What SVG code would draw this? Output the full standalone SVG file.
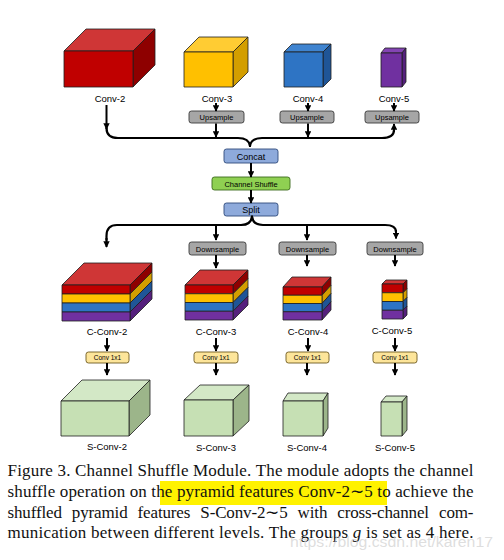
<svg xmlns="http://www.w3.org/2000/svg" width="504" height="560" viewBox="0 0 504 560">
<defs>
<marker id="ah" viewBox="0 0 10 10" refX="9" refY="5" markerWidth="3.2" markerHeight="3.2" orient="auto" markerUnits="strokeWidth">
<path d="M0,0 L10,5 L0,10 z" fill="#000"/>
</marker>
</defs>
<style>
.lbl{font-family:"Liberation Sans",Arial,sans-serif;font-size:9.5px;fill:#000;text-anchor:middle}
.bt{font-family:"Liberation Sans",Arial,sans-serif;text-anchor:middle;fill:#000}
.cube polygon,.cube rect{stroke:#1e1e1e;stroke-width:0.8;stroke-linejoin:round}
.gray{fill:#a6a6a6;stroke:#3a3a3a;stroke-width:0.9}
.blue{fill:#8eaadb;stroke:#2f4b7c;stroke-width:0.9}
.green{fill:#8fd052;stroke:#3d6b1d;stroke-width:0.9}
.yel{fill:#fde59a;stroke:#6e5a20;stroke-width:0.9}
.arr{fill:none;stroke:#000;stroke-width:2;marker-end:url(#ah)}
.br{fill:none;stroke:#000;stroke-width:2.2;stroke-linecap:round}
.cap{font-family:"Liberation Serif","Times New Roman",serif;font-size:17px;fill:#111}
.rf{fill:#c00000}.rt{fill:#cf3636}.rs{fill:#8e0000}
.yf{fill:#ffc000}.yt{fill:#ffcc33}.ys{fill:#d39e00}
.bf{fill:#2e74c4}.bt2{fill:#3f84d0}.bs{fill:#1f5597}
.pf{fill:#7030a0}.pt{fill:#8444b4}.ps{fill:#55207d}
.gf{fill:#c6e0b4}.gt{fill:#d3e8c6}.gs{fill:#9cb58a}
</style>

<!-- Top cubes -->
<g id="conv2" class="cube">
<polygon class="rt" points="64,51 86,29 155,29 133,51"/>
<polygon class="rs" points="133,51 155,29 155,65 133,87"/>
<rect class="rf" x="64" y="51" width="69" height="36"/>
<text class="lbl" x="110" y="102" stroke="none">Conv-2</text>
</g>
<g id="conv3" class="cube">
<polygon class="yt" points="184,52 199,37 248,37 233,52"/>
<polygon class="ys" points="233,52 248,37 248,72 233,87"/>
<rect class="yf" x="184" y="52" width="49" height="35"/>
<text class="lbl" x="217" y="102" stroke="none">Conv-3</text>
</g>
<g id="conv4" class="cube">
<polygon class="bt2" points="284,52 292,44 331,44 323,52"/>
<polygon class="bs" points="323,52 331,44 331,79 323,87"/>
<rect class="bf" x="284" y="52" width="39" height="35"/>
<text class="lbl" x="308" y="102" stroke="none">Conv-4</text>
</g>
<g id="conv5" class="cube">
<polygon class="pt" points="381,53 385,48 406,48 402,53"/>
<polygon class="ps" points="402,53 406,48 406,82 402,87"/>
<rect class="pf" x="381" y="53" width="21" height="34"/>
<text class="lbl" x="394" y="102" stroke="none">Conv-5</text>
</g>

<!-- Upsample boxes -->
<g id="up3"><rect class="gray" x="189" y="111" width="55" height="12" rx="2.5"/><text class="bt" x="216.5" y="120" font-size="7.5">Upsample</text></g>
<g id="up4"><rect class="gray" x="280" y="111" width="54" height="12" rx="2.5"/><text class="bt" x="307" y="120" font-size="7.5">Upsample</text></g>
<g id="up5"><rect class="gray" x="365" y="111" width="54" height="12" rx="2.5"/><text class="bt" x="392" y="120" font-size="7.5">Upsample</text></g>

<g id="concat"><rect class="blue" x="224" y="149" width="54" height="14" rx="2.5"/><text class="bt" x="251" y="159.5" font-size="9">Concat</text></g>
<g id="shuffle"><rect class="green" x="212" y="177" width="78" height="13" rx="2.5"/><text class="bt" x="251" y="186.5" font-size="7.5">Channel Shuffle</text></g>
<g id="split"><rect class="blue" x="224" y="203" width="54" height="13" rx="2.5"/><text class="bt" x="251" y="213" font-size="9">Split</text></g>

<g id="down3"><rect class="gray" x="189" y="242" width="57" height="13" rx="2.5"/><text class="bt" x="217.5" y="251.5" font-size="7.5">Downsample</text></g>
<g id="down4"><rect class="gray" x="279" y="242" width="57" height="13" rx="2.5"/><text class="bt" x="307.5" y="251.5" font-size="7.5">Downsample</text></g>
<g id="down5"><rect class="gray" x="367" y="242" width="56" height="13" rx="2.5"/><text class="bt" x="395" y="251.5" font-size="7.5">Downsample</text></g>

<!-- C-Conv stacked cubes -->
<g id="cconv2" class="cube">
<polygon class="rt" points="62,285 84,263 152,263 130,285"/>
<polygon class="rs" points="130,285 152,263 152,272 130,294"/>
<polygon class="ys" points="130,294 152,272 152,281 130,303"/>
<polygon class="bs" points="130,303 152,281 152,290 130,312"/>
<polygon class="ps" points="130,312 152,290 152,299 130,321"/>
<rect class="rf" x="62" y="285" width="68" height="9"/>
<rect class="yf" x="62" y="294" width="68" height="9"/>
<rect class="bf" x="62" y="303" width="68" height="9"/>
<rect class="pf" x="62" y="312" width="68" height="9"/>
<text class="lbl" x="107" y="335" stroke="none">C-Conv-2</text>
</g>
<g id="cconv3" class="cube">
<polygon class="rt" points="185,285 200,270 248,270 233,285"/>
<polygon class="rs" points="233,285 248,270 248,278.75 233,293.75"/>
<polygon class="ys" points="233,293.75 248,278.75 248,287.5 233,302.5"/>
<polygon class="bs" points="233,302.5 248,287.5 248,296.25 233,311.25"/>
<polygon class="ps" points="233,311.25 248,296.25 248,305 233,320"/>
<rect class="rf" x="185" y="285" width="48" height="8.75"/>
<rect class="yf" x="185" y="293.75" width="48" height="8.75"/>
<rect class="bf" x="185" y="302.5" width="48" height="8.75"/>
<rect class="pf" x="185" y="311.25" width="48" height="8.75"/>
<text class="lbl" x="216" y="335" stroke="none">C-Conv-3</text>
</g>
<g id="cconv4" class="cube">
<polygon class="rt" points="283,287 292,277 331,277 322,287"/>
<polygon class="rs" points="322,287 331,277 331,285.25 322,295.25"/>
<polygon class="ys" points="322,295.25 331,285.25 331,293.5 322,303.5"/>
<polygon class="bs" points="322,303.5 331,293.5 331,301.75 322,311.75"/>
<polygon class="ps" points="322,311.75 331,301.75 331,310 322,320"/>
<rect class="rf" x="283" y="287" width="39" height="8.25"/>
<rect class="yf" x="283" y="295.25" width="39" height="8.25"/>
<rect class="bf" x="283" y="303.5" width="39" height="8.25"/>
<rect class="pf" x="283" y="311.75" width="39" height="8.25"/>
<text class="lbl" x="308" y="335" stroke="none">C-Conv-4</text>
</g>
<g id="cconv5" class="cube">
<polygon class="rt" points="382,284 386,280 407,280 403,284"/>
<polygon class="rs" points="403,284 407,280 407,288.75 403,292.75"/>
<polygon class="ys" points="403,292.75 407,288.75 407,297.5 403,301.5"/>
<polygon class="bs" points="403,301.5 407,297.5 407,306.25 403,310.25"/>
<polygon class="ps" points="403,310.25 407,306.25 407,315 403,319"/>
<rect class="rf" x="382" y="284" width="21" height="8.75"/>
<rect class="yf" x="382" y="292.75" width="21" height="8.75"/>
<rect class="bf" x="382" y="301.5" width="21" height="8.75"/>
<rect class="pf" x="382" y="310.25" width="21" height="8.75"/>
<text class="lbl" x="392" y="334" stroke="none">C-Conv-5</text>
</g>

<!-- Conv 1x1 -->
<g id="c11a"><rect class="yel" x="86" y="352" width="43" height="11" rx="2.5"/><text class="bt" x="107.5" y="360" font-size="6.5">Conv 1x1</text></g>
<g id="c11b"><rect class="yel" x="194" y="352" width="44" height="11" rx="2.5"/><text class="bt" x="216" y="360" font-size="6.5">Conv 1x1</text></g>
<g id="c11c"><rect class="yel" x="286" y="352" width="43" height="11" rx="2.5"/><text class="bt" x="307.5" y="360" font-size="6.5">Conv 1x1</text></g>
<g id="c11d"><rect class="yel" x="373" y="352" width="44" height="11" rx="2.5"/><text class="bt" x="395" y="360" font-size="6.5">Conv 1x1</text></g>

<!-- S-Conv cubes -->
<g id="sconv2" class="cube">
<polygon class="gt" points="61,401 82,380 150,380 129,401"/>
<polygon class="gs" points="129,401 150,380 150,415 129,436"/>
<rect class="gf" x="61" y="401" width="68" height="35"/>
<text class="lbl" x="107" y="450" stroke="none">S-Conv-2</text>
</g>
<g id="sconv3" class="cube">
<polygon class="gt" points="184,400 200,385 249,385 233,400"/>
<polygon class="gs" points="233,400 249,385 249,421 233,436"/>
<rect class="gf" x="184" y="400" width="49" height="36"/>
<text class="lbl" x="216" y="451" stroke="none">S-Conv-3</text>
</g>
<g id="sconv4" class="cube">
<polygon class="gt" points="283,401 288,393 328,393 323,401"/>
<polygon class="gs" points="323,401 328,393 328,428 323,436"/>
<rect class="gf" x="283" y="401" width="40" height="35"/>
<text class="lbl" x="307" y="451" stroke="none">S-Conv-4</text>
</g>
<g id="sconv5" class="cube">
<polygon class="gt" points="381,402 386,396 407,396 402,402"/>
<polygon class="gs" points="402,402 407,396 407,430 402,436"/>
<rect class="gf" x="381" y="402" width="21" height="34"/>
<text class="lbl" x="395" y="451" stroke="none">S-Conv-5</text>
</g>

<!-- Connectors -->
<g id="connectors">
<path class="arr" d="M106.5,105 L106.5,129"/>
<path class="br" d="M250,146 Q249,138 238,138 L118,138 Q106.5,138 106.5,128"/>
<path class="br" d="M250,146 Q251,138 262,138 L382,138 Q394,138 394,130"/>
<path class="arr" d="M394,132 L394,124"/>
<path class="arr" d="M216,103 L216,111"/>
<path class="arr" d="M308,103 L308,111"/>
<path class="arr" d="M394,103 L394,111"/>
<path class="arr" d="M216,123.5 L216,137"/>
<path class="arr" d="M308,123.5 L308,137"/>
<path class="arr" d="M251,163 L251,177"/>
<path class="arr" d="M251,190 L251,203"/>
<path class="br" d="M252,216.5 Q251,225 241,225 L117,225 Q106.5,225 106.5,236 L106.5,240"/>
<path class="arr" d="M106.5,238 L106.5,247"/>
<path class="br" d="M252,216.5 Q253,225 263,225 L385,225 Q396,225 396,232"/>
<path class="arr" d="M396,230 L396,238.5"/>
<path class="arr" d="M216,225 L216,240"/>
<path class="arr" d="M307,225 L307,240"/>
<path class="arr" d="M216,255 L216,268"/>
<path class="arr" d="M307,255 L307,266"/>
<path class="arr" d="M395,255 L395,266"/>
<path class="arr" d="M107,338 L107,351"/>
<path class="arr" d="M216,338 L216,351"/>
<path class="arr" d="M308,338 L308,351"/>
<path class="arr" d="M395,338 L395,351"/>
<path class="arr" d="M107,363 L107,375"/>
<path class="arr" d="M216,363 L216,375"/>
<path class="arr" d="M307,363 L307,375"/>
<path class="arr" d="M395,363 L395,375"/>
</g>

<!-- Caption -->
<rect x="160" y="481" width="227" height="24" fill="#fff200"/>
<text class="cap" x="7.5" y="476" textLength="466" lengthAdjust="spacing">Figure 3. Channel Shuffle Module. The module adopts the channel</text>
<text class="cap" x="7.5" y="497" textLength="466" lengthAdjust="spacing">shuffle operation on the pyramid features Conv-2∼5 to achieve the</text>
<text class="cap" x="7.5" y="517.5" textLength="466" lengthAdjust="spacing" word-spacing="6">shuffled pyramid features S-Conv-2∼5 with cross-channel com-</text>
<text class="cap" x="7.5" y="538" textLength="466" lengthAdjust="spacing">munication between different levels. The groups <tspan font-style="italic">g</tspan> is set as 4 here.</text>
<text x="290" y="547" font-family="'Liberation Sans',Arial,sans-serif" font-size="14" fill="#cfcfcf" fill-opacity="0.7" textLength="203" lengthAdjust="spacingAndGlyphs">https://blog.csdn.net/karen17</text>
</svg>
